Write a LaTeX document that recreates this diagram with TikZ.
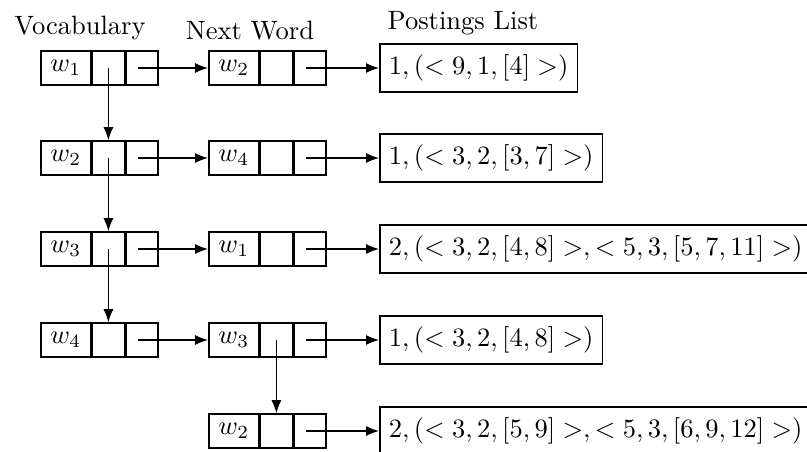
\RequirePackage{fix-cm}
\documentclass[tikz,border=0pt]{standalone}
\usepackage{graphicx}
\usetikzlibrary{arrows.meta}

% text is set at 10pt and enlarged, keeping the 10pt design
\newcommand\fs{2.65}
\newcommand\sz[1]{\scalebox{\fs}{#1}}

% one record of the lexicon: label cell plus two pointer cells
\newcommand\wordrec[4]{%
  \node[cell, minimum width=50pt] (#1a) at (#2,#3) {\sz{$#4$}};
  \node[cell, minimum width=32pt] (#1b) at (#1a.east) {};
  \node[cell, minimum width=32pt] (#1c) at (#1b.east) {};
}

\begin{document}
\begin{tikzpicture}[x=1pt, y=-1pt,
  every node/.style={font=\fontsize{10}{12}\selectfont},
  cell/.style={draw, line width=1.6pt, minimum height=34pt, inner sep=0pt, anchor=west},
  post/.style={draw, line width=1.6pt, minimum height=48pt, inner xsep=9pt, inner ysep=0pt, anchor=west},
  link/.style={-{Latex[length=13pt,width=10pt]}, line width=1.3pt},
  heading/.style={anchor=base}]
\useasboundingbox (0,0) rectangle (807,452);
\clip (0,0) rectangle (807,452);

% column headings
\node[heading] (hv) at (80,35) {\sz{Vocabulary}};
\node[heading] (hn) at (250,40) {\sz{Next Word}};
\node[heading] (hp) at (463,30) {\sz{Postings List}};

% vocabulary column
\wordrec{v1}{40}{68}{w_1}
\wordrec{v2}{40}{158}{w_2}
\wordrec{v3}{40}{249}{w_3}
\wordrec{v4}{40}{340}{w_4}

% next-word column
\wordrec{n1}{208}{68}{w_2}
\wordrec{n2}{208}{158}{w_4}
\wordrec{n3}{208}{249}{w_1}
\wordrec{n4}{208}{340}{w_3}
\wordrec{n5}{208}{431}{w_2}

% postings lists
\node[post] (p1) at (379,68)  {\sz{$1,(<9,1,[4]>)$}};
\node[post] (p2) at (379,158) {\sz{$1,(<3,2,[3,7]>)$}};
\node[post] (p3) at (379,249) {\sz{$2,(<3,2,[4,8]>,<5,3,[5,7,11]>)$}};
\node[post] (p4) at (379,340) {\sz{$1,(<3,2,[4,8]>)$}};
\node[post] (p5) at (379,431) {\sz{$2,(<3,2,[5,9]>,<5,3,[6,9,12]>)$}};

% chain down the vocabulary
\draw[link] (v1b.center) -- (v2b.north);
\draw[link] (v2b.center) -- (v3b.north);
\draw[link] (v3b.center) -- (v4b.north);
\draw[link] (n4b.center) -- (n5b.north);

% vocabulary to next word
\foreach \i in {1,2,3,4}
  \draw[link] ([xshift=-4pt]v\i c.center) -- (n\i a.west);

% next word to postings
\foreach \i in {1,2,3,4,5}
  \draw[link] ([xshift=-4pt]n\i c.center) -- (p\i.west);
\end{tikzpicture}
\end{document}
